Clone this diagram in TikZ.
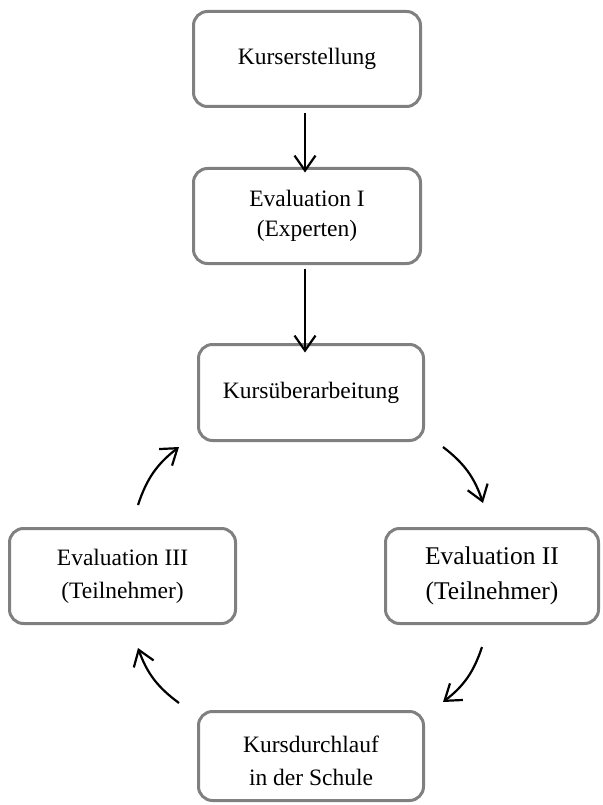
\documentclass[tikz,border=0pt]{standalone}
\usepackage{fontspec}
\setmainfont{Liberation Serif}
\usetikzlibrary{arrows.meta}
\begin{document}
\begin{tikzpicture}[x=1pt,y=-1pt,
  box/.style={draw=black!50, line width=3pt, rounded corners=14pt, inner sep=0pt,
    align=center, font=\fontsize{23.5}{33}\selectfont},
  lbl/.style={align=center, inner sep=0pt, font=\fontsize{23.5}{33}\selectfont},
  arr/.style={line width=2.2pt, -{Straight Barb[length=15pt,width=21pt,line width=2.2pt]}},
  carr/.style={arr, bend left=17}]
\useasboundingbox (0,0) rectangle (602,805);
\node[box, minimum width=227pt, minimum height=95pt] (A) at (307,59) {Kurserstellung};
\node[box, minimum width=227pt, minimum height=95pt, font=\fontsize{23.5}{30}\selectfont] (B) at (307,216) {Evaluation I\\(Experten)};
\node[box, minimum width=225pt, minimum height=96pt] (C) at (311,392.5) {Kursüberarbeitung};
\node[box, minimum width=226pt, minimum height=95pt] (D) at (122.5,576) {Evaluation III\\(Teilnehmer)};
\node[box, minimum width=213pt, minimum height=95pt, font=\fontsize{25.5}{35}\selectfont] (E) at (492,576) {Evaluation II\\(Teilnehmer)};
\node[box, minimum width=225pt, minimum height=89pt] (F) at (311,756) {};
\node[lbl] (Ft) at (311,761) {Kursdurchlauf\\in der Schule};
\draw[arr, shorten <=5pt] ([xshift=-2pt]A.south) -- ([xshift=-2pt,yshift=-5.5pt]B.north);
\draw[arr, shorten <=3.5pt] ([xshift=-2pt]B.south) -- ([xshift=-6pt,yshift=-9.5pt]C.north);
\coordinate (c1s) at (138,505);
\coordinate (c1e) at (179,447);
\coordinate (c2s) at (443,447);
\coordinate (c2e) at (483,503);
\coordinate (c3s) at (482,647);
\coordinate (c3e) at (443,702);
\coordinate (c4s) at (179,703);
\coordinate (c4e) at (138,648);
\draw[carr] (c1s) to (c1e);
\draw[carr] (c2s) to (c2e);
\draw[carr] (c3s) to (c3e);
\draw[carr] (c4s) to (c4e);
\end{tikzpicture}
\end{document}
